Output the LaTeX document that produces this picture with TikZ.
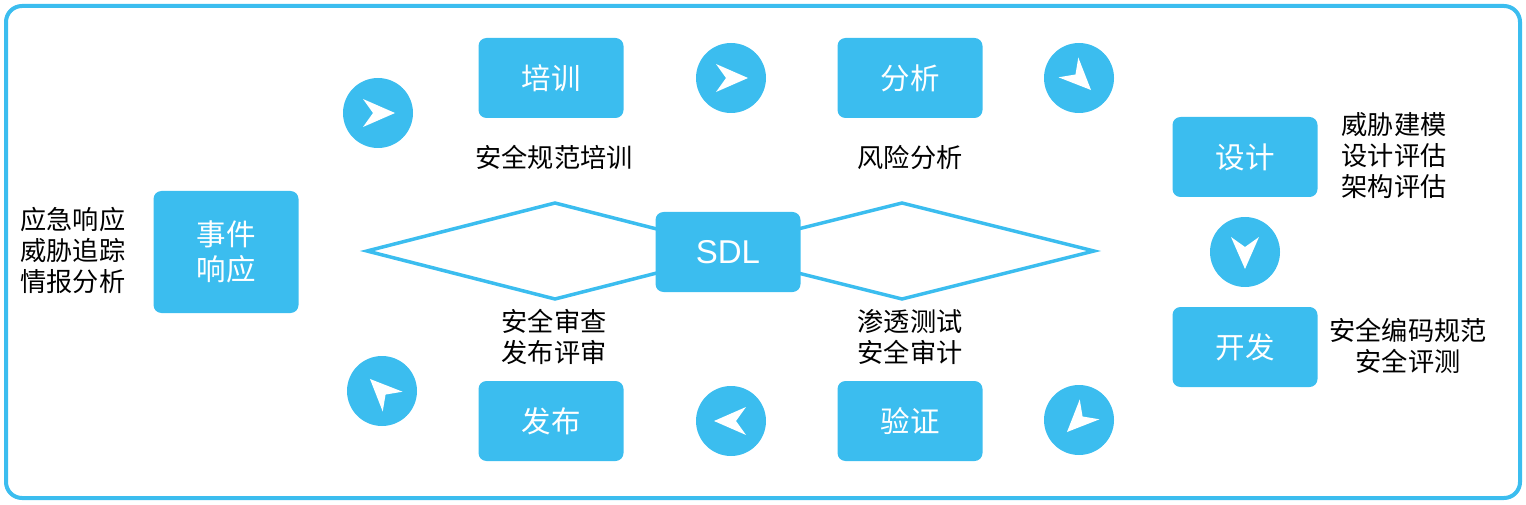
\documentclass[tikz,border=0pt]{standalone}
\usepackage{fontspec}
\setmainfont{Noto Sans CJK SC}
\newfontfamily\latinfont{Liberation Sans}
\definecolor{sky}{HTML}{3BBDEF}
\begin{document}
\begin{tikzpicture}[x=1pt,y=-1pt,
  box/.style={fill=sky, rounded corners=8pt, text=white, minimum width=145pt, minimum height=80pt, inner sep=0pt, font=\fontsize{29.5}{35}\selectfont, align=center},
  circ/.style={circle, fill=sky, minimum size=70pt, inner sep=0pt},
  lbl/.style={font=\fontsize{26.2}{31}\selectfont, align=center, inner sep=0pt},
  diam/.style={draw=sky, line width=3.5pt, line join=miter},
  tipshape/.style={fill=white}]
\useasboundingbox (0,0) rectangle (1526,505);
\draw[sky, line width=4pt, rounded corners=16pt] (6,6) rectangle (1520,498);
% diamonds
\draw[diam] (367,251) -- (555,203) -- (743,251) -- (555,299) -- cycle;
\draw[diam] (710,251) -- (902,203) -- (1094,251) -- (902,299) -- cycle;
% boxes
\node[box] (px) at (551,78) {培训};
\node[box] (fx) at (910,78) {分析};
\node[box] (sj) at (1245,157) {设计};
\node[box] (kf) at (1245,347) {开发};
\node[box, minimum height=122pt] (sx) at (226,252) {事件\\响应};
\node[box] (fb) at (551,421) {发布};
\node[box] (yz) at (910,421) {验证};
\node[box, font=\latinfont\fontsize{33}{38}\selectfont] (sdl) at (728,252) {SDL};
% labels
\node[lbl] (l1) at (554,157) {安全规范培训};
\node[lbl] (l2) at (910,157) {风险分析};
\node[lbl] (l3) at (1394,156) {威胁建模\\设计评估\\架构评估};
\node[lbl] (l4) at (1408,346) {安全编码规范\\安全评测};
\node[lbl] (l5) at (554,337) {安全审查\\发布评审};
\node[lbl] (l6) at (910,337) {渗透测试\\安全审计};
\node[lbl] (l7) at (73,250) {应急响应\\威胁追踪\\情报分析};
% arrow circles
\node[circ] (c1) at (378,113) {};
\node[circ] (c2) at (731,78) {};
\node[circ] (c3) at (1079,78) {};
\node[circ] (c4) at (1245,252) {};
\node[circ] (c5) at (1079,420) {};
\node[circ] (c6) at (731,421) {};
\node[circ] (c7) at (382,391) {};
\foreach \n/\a in {c1/0,c2/0,c3/-45,c4/-90,c5/-135,c6/180,c7/135}
  \fill[tipshape, shift={(\n.center)}, rotate=\a] (17,0) -- (-15,-14) -- (-5,0) -- (-15,14) -- cycle;
\end{tikzpicture}
\end{document}
